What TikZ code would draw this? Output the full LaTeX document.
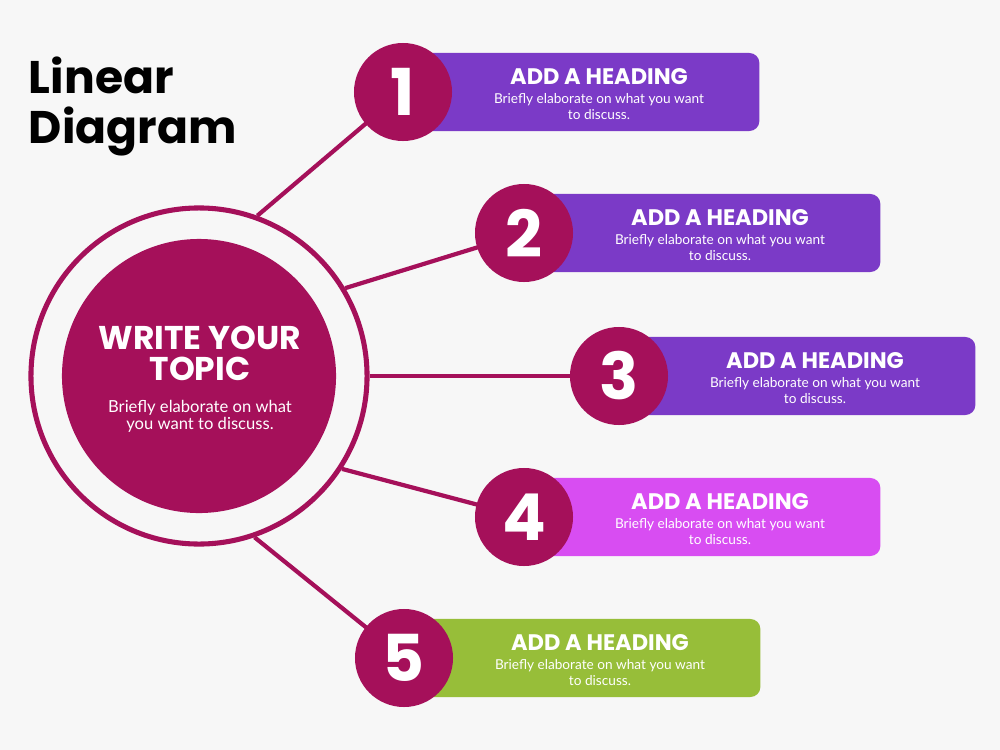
\documentclass[tikz,border=0pt]{standalone}
\usepackage{fontspec}
\setmainfont{Poppins}
\newfontfamily\bodyfont{Lato}
\usetikzlibrary{positioning}
\definecolor{berry}{HTML}{A5105A}
\definecolor{barpurple}{HTML}{7B3AC7}
\definecolor{barpink}{HTML}{D84DF2}
\definecolor{bargreen}{HTML}{97BE39}
\definecolor{bggrey}{HTML}{F7F7F7}
\begin{document}
\begin{tikzpicture}[x=0.025cm,y=-0.025cm,num/.style={circle,fill=berry,minimum size=2.45cm,inner sep=0pt,text=white,font=\fontsize{46}{46}\selectfont\bfseries},bar/.style={rounded corners=0.25cm,minimum width=8.9cm,minimum height=1.95cm,anchor=west,inner sep=0pt},head/.style={anchor=base,text=white,font=\fontsize{16}{16}\selectfont\bfseries},sub/.style={anchor=base,align=center,text=white,font=\bodyfont\fontsize{9.7}{10.7}\selectfont},title/.style={anchor=base west,font=\fontsize{32.5}{32.5}\selectfont\bfseries}]
\fill[bggrey] (0,0) rectangle (1000,750);
\node[title] (t1) at (24,93) {Linear};
\node[title] (t2) at (24,143) {Diagram};
\node[circle,draw=berry,line width=3.6pt,minimum size=8.4cm] (ring) at (199,376) {};
\node[circle,fill=berry,minimum size=6.85cm] (topic) at (199,376) {};
\node[anchor=base,text=white,font=\fontsize{23.4}{23.4}\selectfont\bfseries] (w1) at (200,349) {WRITE YOUR};
\node[anchor=base,text=white,font=\fontsize{23.4}{23.4}\selectfont\bfseries] (w2) at (200,380) {TOPIC};
\node[anchor=base,align=center,text=white,font=\bodyfont\fontsize{11.8}{11.4}\selectfont] (wt) at (200,429) {Briefly elaborate on what\\you want to discuss.};
\foreach \n/\x/\y/\a/\c in {1/403/92/70/barpurple,2/524/233/31/barpurple,3/619/376/0/barpurple,4/524/517/-33/barpink,5/404/658/-71/bargreen}{
\coordinate (c\n) at (\x,\y);
\draw[berry,line width=3pt] (ring.\a) -- (c\n);
\node[bar,fill=\c] (b\n) at (c\n) {};
\node[num] (n\n) at (c\n) {\n};
\node[head] (h\n) at (\x+196,\y-8) {ADD A HEADING};
\node[sub] (s\n) at (\x+196,\y+27) {Briefly elaborate on what you want\\to discuss.};
}
\end{tikzpicture}
\end{document}
